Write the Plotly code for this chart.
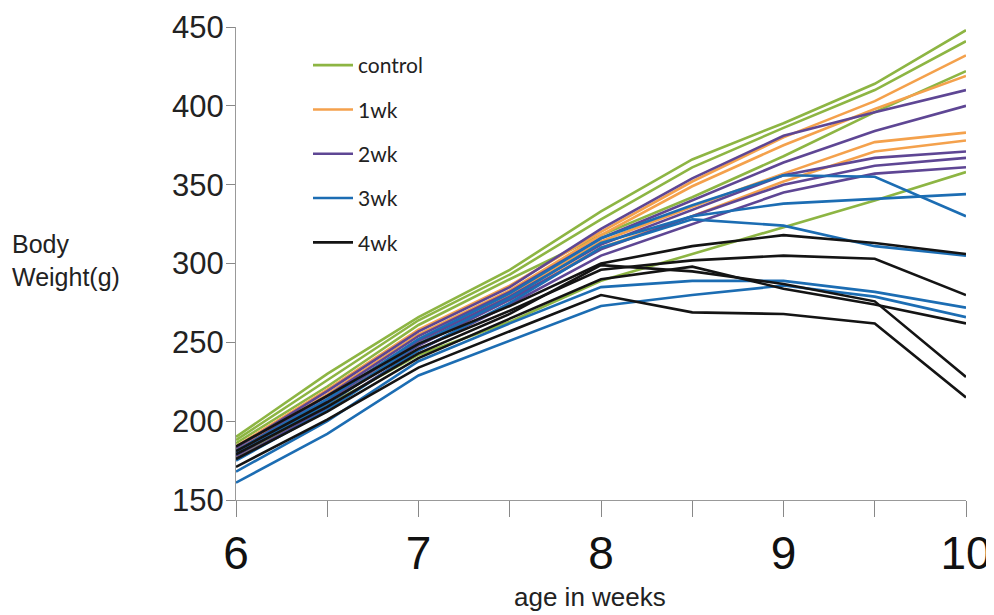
import plotly.graph_objects as go

weeks = [6, 6.5, 7, 7.5, 8, 8.5, 9, 9.5, 10]

control = [
    [190, 230, 266, 296, 333, 366, 389, 414, 448],
    [188, 226, 264, 293, 328, 361, 386, 410, 441],
    [186, 222, 261, 290, 318, 342, 368, 396, 422],
    [177, 210, 242, 263, 289, 306, 323, 340, 358],
]
wk1 = [
    [184, 220, 258, 286, 320, 352, 380, 403, 432],
    [182, 217, 255, 283, 318, 349, 375, 398, 419],
    [180, 214, 252, 280, 314, 336, 357, 377, 383],
    [178, 212, 250, 277, 310, 330, 352, 371, 378],
]
wk2 = [
    [183, 219, 257, 285, 322, 354, 381, 396, 410],
    [181, 216, 254, 282, 316, 340, 364, 384, 400],
    [180, 213, 251, 279, 312, 334, 356, 367, 371],
    [178, 211, 248, 277, 309, 330, 350, 362, 367],
    [176, 208, 245, 274, 305, 325, 345, 357, 361],
]
wk3 = [
    [181, 214, 252, 281, 316, 337, 356, 355, 330],
    [179, 211, 249, 278, 313, 330, 338, 341, 344],
    [175, 207, 245, 275, 310, 328, 324, 311, 305],
    [168, 200, 238, 262, 285, 289, 289, 282, 272],
    [161, 192, 229, 251, 273, 280, 286, 279, 266],
]
wk4 = [
    [184, 216, 249, 273, 300, 311, 318, 313, 306],
    [181, 212, 246, 270, 296, 302, 305, 303, 280],
    [179, 209, 243, 268, 299, 295, 287, 276, 228],
    [176, 206, 240, 265, 290, 298, 284, 274, 262],
    [171, 201, 234, 257, 280, 269, 268, 262, 215],
]

group_names = ["control", "1wk", "2wk", "3wk", "4wk"]
group_data = [control, wk1, wk2, wk3, wk4]
group_colors = ["#8DB543", "#F4A14C", "#5E4694", "#1C6DB3", "#141414"]

x_tickvals = [6, 6.5, 7, 7.5, 8, 8.5, 9, 9.5, 10]
x_ticktext = ["6", "", "7", "", "8", "", "9", "", "10"]
y_tickvals = [150, 200, 250, 300, 350, 400, 450]

fig = go.Figure()
for name, data, color in zip(group_names, group_data, group_colors):
    for i, series in enumerate(data):
        fig.add_trace(go.Scatter(
            x=weeks, y=series, mode="lines", name=name,
            legendgroup=name, showlegend=(i == 0),
            line=dict(color=color, width=2.6),
        ))

fig.update_layout(
    width=994, height=615,
    margin=dict(l=228, r=36, t=19, b=123, autoexpand=False),
    paper_bgcolor="white", plot_bgcolor="white",
    font=dict(family="Liberation Sans, Arial, sans-serif", color="#222"),
    showlegend=True,
    legend=dict(
        x=(308 - 236) / 730, y=(500 - 45) / 473, xanchor="left", yanchor="top",
        font=dict(family="Lato, Open Sans, sans-serif", size=21, color="#222"),
        traceorder="grouped", tracegroupgap=14,
        bgcolor="rgba(0,0,0,0)", itemwidth=40,
    ),
    xaxis=dict(
        range=[6, 10], tickmode="array", tickvals=x_tickvals, ticktext=x_ticktext,
        ticks="outside", ticklen=16, tickcolor="#888", tickwidth=1.2,
        showline=True, linecolor="#999", linewidth=1.2, showgrid=False, zeroline=False,
        tickfont=dict(size=46, color="#111"), ticklabelstandoff=-3, automargin=False,
    ),
    yaxis=dict(
        range=[150, 450], tickmode="array", tickvals=y_tickvals,
        ticks="outside", ticklen=9, tickcolor="#888", tickwidth=1.2,
        showline=True, linecolor="#999", linewidth=1.2, showgrid=False, zeroline=False,
        tickfont=dict(size=31, color="#222"), ticklabelstandoff=-4, automargin=False,
    ),
)

fig.add_annotation(
    text="Body<br>Weight(g)", xref="paper", yref="paper",
    x=(10 - 236) / 730, y=(500 - 260) / 473, xanchor="left", yanchor="middle",
    align="left", showarrow=False, font=dict(size=25, color="#222"),
)
fig.add_annotation(
    text="age in weeks", xref="paper", yref="paper",
    x=(590 - 236) / 730, y=(500 - 597) / 473, xanchor="center", yanchor="middle",
    showarrow=False, font=dict(size=26, color="#222"),
)

fig.write_html("out.html")
